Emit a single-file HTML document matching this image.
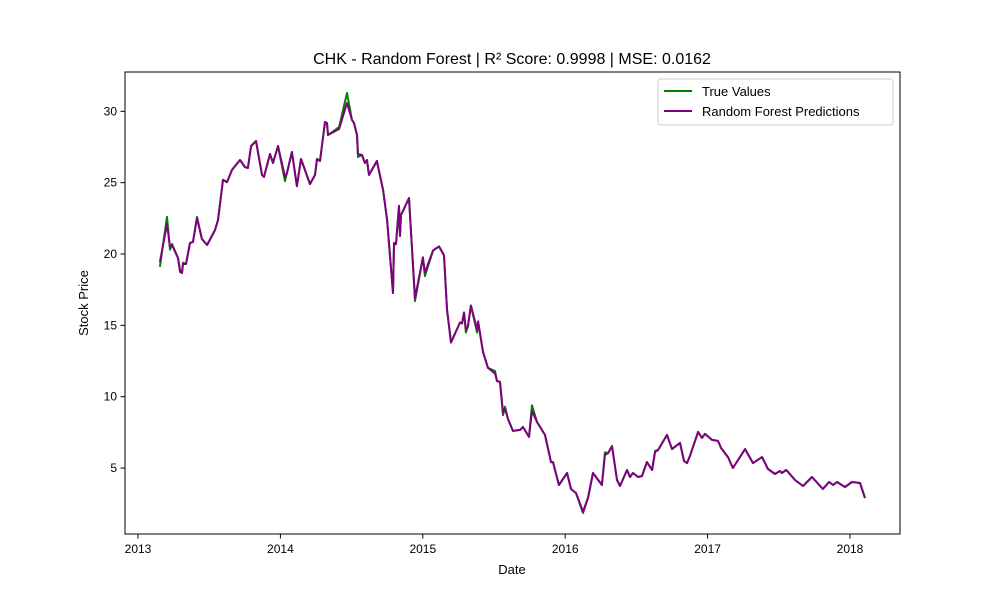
<!DOCTYPE html>
<html><head><meta charset="utf-8"><style>body{margin:0;background:#fff}svg{display:block;font-family:"Liberation Sans","DejaVu Sans",sans-serif}</style></head>
<body>
<svg id="chart" width="1000" height="600">
<rect width="1000" height="600" fill="#fff"/>
<text x="512" y="64" font-size="16" text-anchor="middle">CHK - Random Forest | R² Score: 0.9998 | MSE: 0.0162</text>
<g id="grid"></g>
<g id="series"></g>
<rect x="125" y="72" width="775" height="462" fill="none" stroke="#000" stroke-width="1"/>
<g id="axes" font-size="12"></g>
<text x="512" y="574" font-size="13" text-anchor="middle">Date</text>
<text transform="translate(88,303) rotate(-90)" font-size="13" text-anchor="middle">Stock Price</text>
<g>
<rect x="658" y="79" width="235" height="46" rx="3" fill="#fff" stroke="#ccc"/>
<line x1="664" y1="91" x2="692" y2="91" stroke="green" stroke-width="2"/>
<text x="702" y="96" font-size="13">True Values</text>
<line x1="664" y1="111" x2="692" y2="111" stroke="purple" stroke-width="2"/>
<text x="702" y="116" font-size="13">Random Forest Predictions</text>
</g>
</svg>
<script>
const dates=[2013.154,2013.204,2013.225,2013.239,2013.281,2013.295,2013.309,2013.316,2013.337,2013.365,2013.386,2013.414,2013.449,2013.485,2013.541,2013.562,2013.597,2013.625,2013.660,2013.716,2013.751,2013.772,2013.794,2013.829,2013.871,2013.885,2013.927,2013.948,2013.983,2014.032,2014.046,2014.081,2014.116,2014.145,2014.208,2014.243,2014.257,2014.278,2014.313,2014.327,2014.334,2014.412,2014.468,2014.503,2014.517,2014.538,2014.545,2014.573,2014.594,2014.608,2014.615,2014.622,2014.678,2014.721,2014.749,2014.791,2014.798,2014.812,2014.833,2014.840,2014.847,2014.903,2014.945,2015.001,2015.015,2015.072,2015.114,2015.149,2015.170,2015.198,2015.261,2015.275,2015.289,2015.303,2015.317,2015.338,2015.381,2015.388,2015.423,2015.458,2015.507,2015.521,2015.542,2015.563,2015.577,2015.598,2015.633,2015.683,2015.704,2015.746,2015.767,2015.802,2015.858,2015.900,2015.914,2015.956,2016.013,2016.041,2016.076,2016.125,2016.160,2016.195,2016.258,2016.279,2016.301,2016.329,2016.364,2016.385,2016.434,2016.455,2016.476,2016.511,2016.539,2016.574,2016.610,2016.631,2016.652,2016.715,2016.750,2016.806,2016.834,2016.855,2016.876,2016.933,2016.961,2016.982,2017.031,2017.073,2017.094,2017.143,2017.178,2017.263,2017.319,2017.382,2017.424,2017.473,2017.508,2017.522,2017.551,2017.565,2017.614,2017.670,2017.733,2017.810,2017.853,2017.881,2017.909,2017.965,2018.014,2018.070,2018.105];
const predVals=[19.44,22.1,20.49,20.63,19.72,18.74,18.67,19.30,19.30,20.78,20.85,22.52,21.05,20.63,21.68,22.38,25.19,25.04,25.89,26.59,26.10,26.03,27.57,27.92,25.54,25.40,27.01,26.38,27.57,25.4,25.68,27.15,24.76,26.66,24.90,25.54,26.66,26.52,29.25,29.18,28.34,28.76,30.58,29.39,29.18,28.34,27.01,26.94,26.38,26.59,26.03,25.54,26.52,24.48,22.38,17.27,20.78,20.71,23.37,21.26,22.73,23.92,16.9,19.76,18.7,20.25,20.53,19.90,16.11,13.80,15.20,15.13,15.90,14.7,14.92,16.39,14.7,15.27,13.14,12.02,11.62,11.10,11.03,8.9,9.14,8.44,7.60,7.67,7.88,7.18,9.0,8.23,7.32,5.42,5.42,3.81,4.65,3.53,3.25,1.95,2.90,4.65,3.81,5.9,6.05,6.54,4.16,3.74,4.86,4.37,4.65,4.37,4.44,5.42,4.86,6.12,6.26,7.32,6.33,6.76,5.50,5.35,5.84,7.53,7.11,7.39,6.97,6.90,6.41,5.77,5.00,6.33,5.35,5.77,4.93,4.58,4.79,4.65,4.86,4.72,4.16,3.74,4.37,3.53,4.02,3.81,4.02,3.67,4.02,3.95,2.90];
const trueVals=[19.1,22.6,20.3,20.7,19.72,18.9,18.67,19.4,19.30,20.78,20.85,22.6,21.05,20.63,21.68,22.38,25.2,25.04,25.89,26.59,26.10,26.03,27.57,27.92,25.54,25.40,27.01,26.38,27.57,25.1,25.68,27.15,24.76,26.66,24.90,25.54,26.66,26.52,29.25,29.18,28.34,28.9,31.28,29.39,29.18,28.34,26.8,26.94,26.38,26.59,26.03,25.54,26.52,24.48,22.38,17.27,20.6,20.71,23.37,21.26,22.73,23.92,16.7,19.76,18.45,20.25,20.53,19.90,16.11,13.80,15.20,15.13,15.90,14.5,14.92,16.39,14.5,15.27,13.14,12.02,11.8,11.10,11.03,8.7,9.3,8.44,7.60,7.67,7.88,7.18,9.4,8.23,7.32,5.42,5.42,3.81,4.65,3.53,3.25,1.85,2.90,4.65,3.81,6.1,6.05,6.54,4.16,3.74,4.86,4.37,4.65,4.37,4.44,5.42,4.86,6.2,6.26,7.32,6.33,6.76,5.50,5.35,5.84,7.53,7.11,7.39,6.97,6.90,6.41,5.77,5.00,6.33,5.35,5.77,4.93,4.58,4.79,4.65,4.86,4.72,4.16,3.74,4.37,3.53,4.02,3.81,4.02,3.67,4.02,3.95,2.90];
const xTicks=[2013,2014,2015,2016,2017,2018];
const yTicks=[5,10,15,20,25,30];
const NS='http://www.w3.org/2000/svg';
const xS=v=>138+(v-2013)*142.4;
const yS=v=>539.4-v*14.27;
const axes=document.getElementById('axes');
function mk(tag,attrs,parent){const e=document.createElementNS(NS,tag);for(const k in attrs)e.setAttribute(k,attrs[k]);parent.appendChild(e);return e;}
xTicks.forEach(t=>{
  const l=mk('line',{x1:xS(t),x2:xS(t),y1:534,y2:538.5,stroke:'#000'},axes);
  
  
  const tx=mk('text',{x:xS(t),y:553,'text-anchor':'middle'},axes);tx.textContent=t;
  
  
});
yTicks.forEach(t=>{
  const l=mk('line',{x1:120.5,x2:125,y1:yS(t),y2:yS(t),stroke:'#000'},axes);
  
  
  const tx=mk('text',{x:117,y:yS(t)+4,'text-anchor':'end'},axes);tx.textContent=t;
  
  
});
const series=document.getElementById('series');
function line(vals,color,name){
  const d=vals.map((v,i)=>(i?'L':'M')+xS(dates[i]).toFixed(1)+','+yS(v).toFixed(1)).join('');
  const p=mk('path',{d:d,fill:'none',stroke:color,'stroke-width':2,'stroke-linejoin':'round'},series);
  
  
}
line(trueVals,'green','true-values-line');
line(predVals,'purple','predictions-line');
</script>
</body></html>
